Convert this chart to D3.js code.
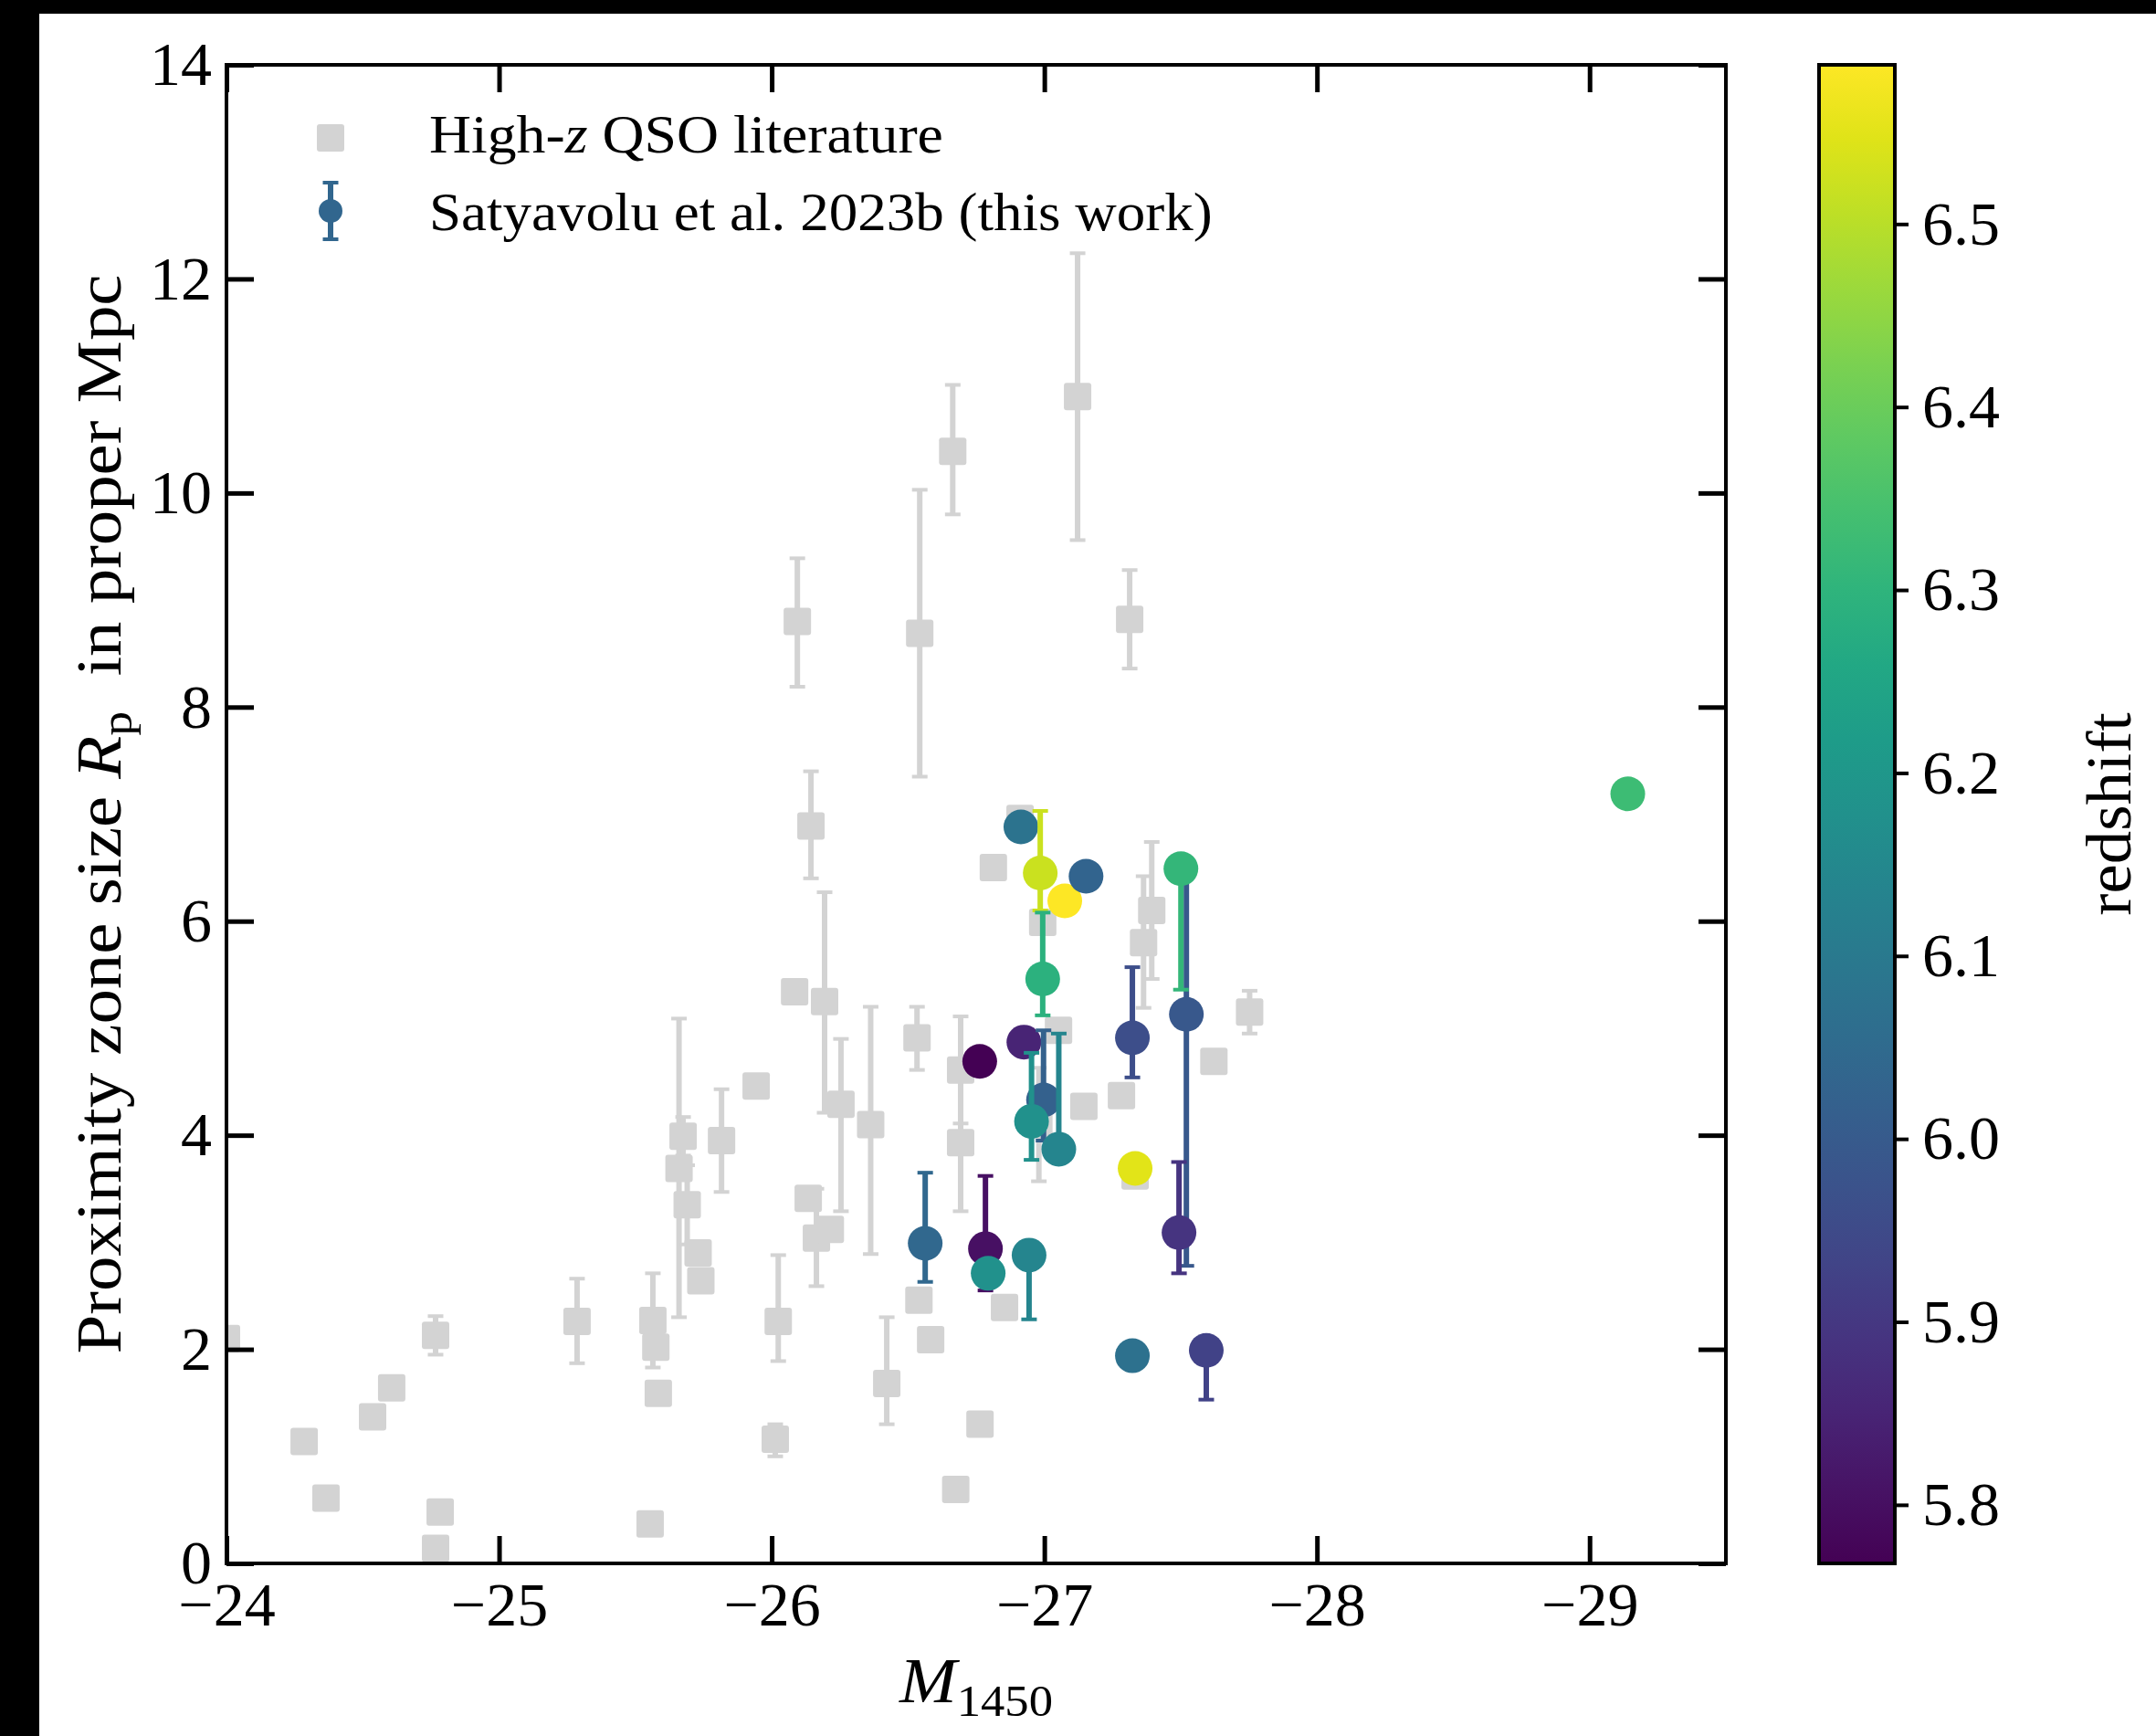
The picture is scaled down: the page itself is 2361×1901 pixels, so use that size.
<!DOCTYPE html>
<html>
<head>
<meta charset="utf-8">
<script src="https://cdn.jsdelivr.net/npm/d3@7"></script>
<style>
  html, body { margin: 0; padding: 0; background: #fff; }
  svg { display: block; }
</style>
</head>
<body>
<div id="chart"></div>
<script>
// literature sample (grey squares); null = no error bar
const litM = [-24.00, -24.285, -24.365, -24.536, -24.606, -24.767, -24.767, -24.784, -25.286, -25.564,
              -25.575, -25.584, -25.554, -25.660, -25.675, -25.690, -25.730, -25.740, -25.816, -25.943,
              -26.024, -26.013, -26.084, -26.094, -26.134, -26.164, -26.144, -26.194, -26.215, -26.254,
              -26.363, -26.422, -26.540, -26.543, -26.533, -26.583, -26.664, -26.675, -26.693, -26.693,
              -26.764, -26.813, -26.854, -26.911, -26.994, -27.052, -26.980, -27.122, -27.145, -27.283,
              -27.313, -27.333, -27.364, -27.394, -27.622, -27.753];
const litR = [2.10, 1.14, 0.61, 1.37, 1.64, 2.13, 0.14, 0.48, 2.26, 2.27,
              2.02, 1.59, 0.37, 3.69, 3.99, 3.35, 2.90, 2.64, 3.95, 4.46,
              2.26, 1.16, 5.34, 8.80, 3.41, 3.04, 6.89, 5.25, 3.12, 4.29,
              4.10, 1.68, 2.46, 8.69, 4.91, 2.09, 10.39, 0.69, 3.93, 4.61,
              1.30, 6.50, 2.39, 6.96, 5.99, 4.98, 4.10, 10.90, 4.27, 4.37,
              8.82, 3.62, 5.80, 6.10, 4.69, 5.15];
const litLo = [null, null, null, null, null, 1.95, null, null, 1.87, 1.83,
               null, null, 0.30, 2.30, 3.81, 2.98, null, null, 3.47, null,
               1.89, 1.00, null, 8.19, null, 2.59, 6.40, 4.21, null, 3.29,
               2.89, 1.30, null, 7.35, 4.61, null, 9.80, null, 3.29, 4.11,
               null, null, null, null, null, null, 3.57, 9.56, null, null,
               8.36, null, 5.19, 5.46, null, 4.95];
const litHi = [null, null, null, null, null, 2.31, null, null, 2.66, 2.71,
               null, null, 0.44, 5.09, 4.17, 3.72, null, null, 4.43, null,
               2.88, 1.30, null, 9.39, null, 3.50, 7.40, 6.27, null, 4.90,
               5.20, 2.30, null, 10.03, 5.20, null, 11.01, null, 4.57, 5.11,
               null, null, null, null, null, null, 4.63, 12.24, null, null,
               9.28, null, 6.42, 6.74, null, 5.35];

// this work (coloured by redshift), in drawing order
const ourM = [-26.763, -26.925, -26.784, -26.563, -27.521, -27.494, -27.501, -26.997, -26.953, -27.053, -26.794,
              -26.944, -27.323, -27.594, -27.323, -26.914, -26.985, -27.075, -27.153, -26.994, -27.333, -29.140];
const ourR = [4.69, 4.87, 2.94, 2.99, 5.13, 3.09, 6.49, 4.33, 4.13, 3.87, 2.71,
              2.88, 1.94, 1.99, 4.91, 6.88, 6.45, 6.19, 6.42, 5.46, 3.69, 7.19];
const ourLo = [null, null, 2.55, 2.63, 2.78, 2.71, 5.36, 3.95, 3.77, 3.75, null,
               2.28, null, 1.53, 4.54, null, 6.10, null, null, 5.12, null, null];
const ourHi = [null, null, 3.62, 3.65, 6.45, 3.75, 6.55, 4.98, 4.77, 4.95, null,
               2.95, null, 2.05, 5.57, null, 7.03, null, null, 6.08, null, null];
const ourZ = [5.768, 5.85, 5.80, 6.04, 5.99, 5.89, 6.31, 6.02, 6.18, 6.14, 6.18,
              6.14, 6.07, 5.93, 5.96, 6.08, 6.52, 6.587, 6.03, 6.29, 6.55, 6.33];

const xTicks = [-24, -25, -26, -27, -28, -29];
const yTicks = [0, 2, 4, 6, 8, 10, 12, 14];
const zTicks = [5.8, 5.9, 6.0, 6.1, 6.2, 6.3, 6.4, 6.5];
const xLimits = [-24, -29.5];
const yLimits = [0, 14];
const zLimits = [5.768, 6.587];

const width = 2361, height = 1901;
const plotLeft = 248, plotRight = 1890, plotTop = 71, plotBottom = 1712;
const barLeft = 1992, barRight = 2075;
const font = '"Liberation Serif", "Times New Roman", serif';
const grey = "#d3d3d3";

const svg = d3.select("#chart").append("svg")
    .attr("width", width)
    .attr("height", height)
    .style("font-family", font);

svg.append("rect").attr("width", width).attr("height", height).attr("fill", "#fff");
// black bands on the top and left edge
svg.append("rect").attr("width", width).attr("height", 15).attr("fill", "#000");
svg.append("rect").attr("width", 43).attr("height", height).attr("fill", "#000");

const x = d3.scaleLinear().domain(xLimits).range([plotLeft, plotRight]);
const y = d3.scaleLinear().domain(yLimits).range([plotBottom, plotTop]);
const color = d3.scaleSequential(d3.interpolateViridis).domain(zLimits);

const defs = svg.append("defs");
defs.append("clipPath").attr("id", "plotClip")
  .append("rect")
    .attr("x", plotLeft).attr("y", plotTop)
    .attr("width", plotRight - plotLeft).attr("height", plotBottom - plotTop);

// stretch a text horizontally to the width it has in the reference
function place(sel, tx, ty, rot, target) {
    const w = sel.node().getBBox().width;
    const s = target ? target / w : 1;
    sel.attr("transform", `translate(${tx},${ty}) rotate(${rot}) scale(${s},1)`);
}

// error bar helper
function errBar(g, cx, lo, hi, stroke) {
    g.append("line")
        .attr("x1", cx).attr("x2", cx)
        .attr("y1", y(lo)).attr("y2", y(hi))
        .attr("stroke", stroke).attr("stroke-width", 6);
    [lo, hi].forEach(v => {
        g.append("line")
            .attr("x1", cx - 8.5).attr("x2", cx + 8.5)
            .attr("y1", y(v)).attr("y2", y(v))
            .attr("stroke", stroke).attr("stroke-width", 4);
    });
}

const plot = svg.append("g").attr("clip-path", "url(#plotClip)");

// literature: all bars first, then squares
const litBars = plot.append("g");
litM.forEach((m, i) => {
    if (litLo[i] !== null) errBar(litBars, x(m), litLo[i], litHi[i], grey);
});
plot.append("g")
  .selectAll("rect")
  .data(litM.map((m, i) => ({m: m, r: litR[i]})))
  .join("rect")
    .attr("x", d => x(d.m) - 15)
    .attr("y", d => y(d.r) - 15)
    .attr("width", 30).attr("height", 30)
    .attr("rx", 3)
    .attr("fill", grey);

// this work: bar + marker per object
const ours = plot.append("g");
ourM.forEach((m, i) => {
    const c = color(ourZ[i]);
    if (ourLo[i] !== null) errBar(ours, x(m), ourLo[i], ourHi[i], c);
    ours.append("circle")
        .attr("cx", x(m)).attr("cy", y(ourR[i]))
        .attr("r", 19)
        .attr("fill", c);
});

// axes, ticks inward on all four sides
function styleAxis(g) {
    g.select(".domain").remove();
    g.selectAll(".tick line").attr("stroke", "#000").attr("stroke-width", 5);
    g.selectAll(".tick text").attr("fill", "#000");
    g.attr("font-family", font).attr("font-size", 68);
}
const fmtNeg = d => d < 0 ? "\u2212" + Math.abs(d) : String(d);

svg.append("g")
    .attr("transform", `translate(0,${plotBottom})`)
    .call(d3.axisBottom(x).tickValues(xTicks).tickSizeInner(-30).tickSizeOuter(0).tickPadding(20).tickFormat(fmtNeg))
    .call(styleAxis);
svg.append("g")
    .attr("transform", `translate(0,${plotTop})`)
    .call(d3.axisTop(x).tickValues(xTicks).tickSizeInner(-30).tickSizeOuter(0).tickFormat(""))
    .call(styleAxis);
svg.append("g")
    .attr("transform", `translate(${plotLeft},0)`)
    .call(d3.axisLeft(y).tickValues(yTicks).tickSizeInner(-30).tickSizeOuter(0).tickPadding(16))
    .call(styleAxis);
svg.append("g")
    .attr("transform", `translate(${plotRight},0)`)
    .call(d3.axisRight(y).tickValues(yTicks).tickSizeInner(-30).tickSizeOuter(0).tickFormat(""))
    .call(styleAxis);

svg.append("rect")
    .attr("x", plotLeft).attr("y", plotTop)
    .attr("width", plotRight - plotLeft).attr("height", plotBottom - plotTop)
    .attr("fill", "none").attr("stroke", "#000").attr("stroke-width", 4);

// colorbar
const grad = defs.append("linearGradient").attr("id", "viridisGrad")
    .attr("x1", 0).attr("y1", 1).attr("x2", 0).attr("y2", 0);
d3.range(0, 1.0001, 0.05).forEach(t => {
    grad.append("stop").attr("offset", t).attr("stop-color", d3.interpolateViridis(t));
});
svg.append("rect")
    .attr("x", barLeft).attr("y", plotTop)
    .attr("width", barRight - barLeft).attr("height", plotBottom - plotTop)
    .attr("fill", "url(#viridisGrad)")
    .attr("stroke", "#000").attr("stroke-width", 4);

const zAxisScale = d3.scaleLinear().domain(zLimits).range([plotBottom, plotTop]);
svg.append("g")
    .attr("transform", `translate(${barRight},0)`)
    .call(d3.axisRight(zAxisScale).tickValues(zTicks).tickSizeInner(15).tickSizeOuter(0).tickPadding(15).tickFormat(d3.format(".1f")))
    .call(g => {
        g.select(".domain").remove();
        g.selectAll(".tick line").attr("stroke", "#000").attr("stroke-width", 4);
        g.selectAll(".tick text").attr("fill", "#000");
        g.attr("font-family", font).attr("font-size", 68);
    });

// axis labels
const yLab = svg.append("text")
    .attr("font-size", 70)
    .attr("text-anchor", "middle");
yLab.append("tspan").text("Proximity zone size ");
yLab.append("tspan").attr("font-style", "italic").text("R");
yLab.append("tspan").attr("font-size", 49).attr("dy", 12).text("p");
yLab.append("tspan").attr("dy", -12).text("\u00a0\u00a0in proper Mpc");
place(yLab, 132, (plotTop + plotBottom) / 2, -90, 1182);

const xLab = svg.append("text")
    .attr("font-size", 70)
    .attr("text-anchor", "middle");
xLab.append("tspan").attr("font-style", "italic").text("M");
xLab.append("tspan").attr("font-size", 49).attr("dy", 15).text("1450");
place(xLab, (plotLeft + plotRight) / 2, 1864, 0, 169);

const zLab = svg.append("text")
    .attr("font-size", 70)
    .attr("text-anchor", "middle")
    .text("redshift");
place(zLab, 2333, (plotTop + plotBottom) / 2, -90, 223);

// legend
const legend = svg.append("g");
legend.append("rect")
    .attr("x", 347).attr("y", 136).attr("width", 30).attr("height", 30).attr("rx", 3)
    .attr("fill", grey);
const legCol = "#31668e";
legend.append("line").attr("x1", 362).attr("x2", 362).attr("y1", 200).attr("y2", 262)
    .attr("stroke", legCol).attr("stroke-width", 6);
[200, 262].forEach(v => legend.append("line")
    .attr("x1", 353.5).attr("x2", 370.5).attr("y1", v).attr("y2", v)
    .attr("stroke", legCol).attr("stroke-width", 4));
legend.append("circle").attr("cx", 362).attr("cy", 231).attr("r", 13).attr("fill", legCol);

const leg1 = legend.append("text").attr("font-size", 60);
leg1.append("tspan").text("High-");
leg1.append("tspan").attr("font-style", "italic").text("z");
leg1.append("tspan").text(" QSO literature");
place(leg1, 470, 167, 0, 563);

const leg2 = legend.append("text").attr("font-size", 60)
    .text("Satyavolu et al. 2023b (this work)");
place(leg2, 470, 252, 0, 858);
</script>
</body>
</html>
